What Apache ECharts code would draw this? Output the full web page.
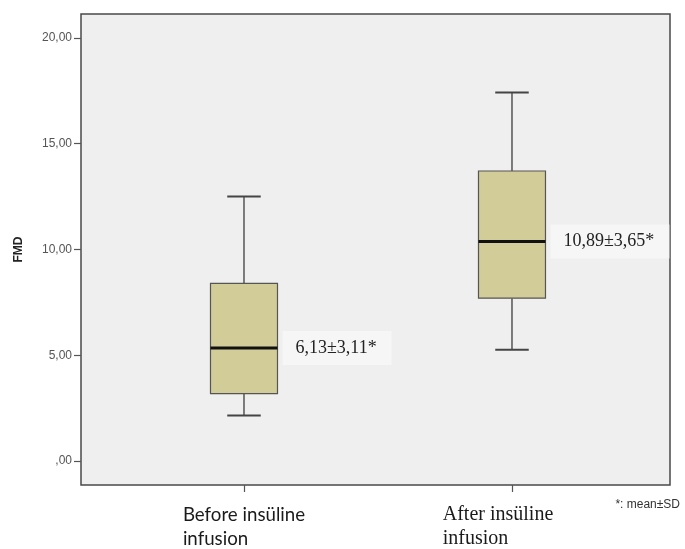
<!DOCTYPE html>
<html>
<head>
<meta charset="utf-8">
<script src="https://cdn.jsdelivr.net/npm/echarts@6/dist/echarts.min.js"></script>
<style>html,body{margin:0;padding:0;background:#fff;}#c{width:685px;height:549px;}</style>
</head>
<body>
<div id="c"></div>
<script>
// Data
var categories = ['Before insüline\ninfusion', 'After insüline\ninfusion'];
var positions = [1, 2];
var whiskerLow = [2.16, 5.26];
var q1 = [3.19, 7.70];
var median = [5.35, 10.38];
var q3 = [8.40, 13.71];
var whiskerHigh = [12.50, 17.42];
var annotations = ['6,13±3,11*', '10,89±3,65*'];
var yTicks = [0, 5, 10, 15, 20];

var seriesData = positions.map(function (p, i) {
  return [p, whiskerLow[i], q1[i], median[i], q3[i], whiskerHigh[i], i];
});

function fmtY(v) {
  var s = Number(v).toFixed(2).replace('.', ',');
  if (s.indexOf('0,') === 0) s = s.substring(1);
  return s;
}

var chart = echarts.init(document.getElementById('c'), null, { renderer: 'canvas' });
chart.setOption({
  backgroundColor: '#ffffff',
  animation: false,
  grid: {
    left: 81, right: 15, top: 14, bottom: 61,
    show: true, backgroundColor: '#efefef', borderColor: '#4a4a4a', borderWidth: 1.5
  },
  xAxis: {
    type: 'value', min: 0.3918, max: 2.5896,
    splitLine: { show: false },
    axisLine: { show: false, onZero: false },
    axisTick: { show: true, length: 7, customValues: positions, lineStyle: { color: '#555', width: 1.2 } },
    axisLabel: {
      customValues: positions,
      margin: 18,
      formatter: function (v) {
        var idx = positions.indexOf(v);
        var lines = categories[idx].split('\n');
        if (idx === 0) {
          return lines.map(function (l) { return '{s|' + l + '}'; }).join('\n');
        }
        return '{t1|' + lines[0] + '}\n{t|' + lines[1] + '}';
      },
      rich: {
        s: { fontFamily: 'Lato', fontSize: 18.7, color: '#1a1a1a', align: 'left', lineHeight: 24 },
        t: { fontFamily: 'Liberation Serif', fontSize: 20, color: '#1a1a1a', align: 'left', lineHeight: 24 },
        t1: { fontFamily: 'Liberation Serif', fontSize: 20, color: '#1a1a1a', align: 'left', lineHeight: 24, padding: [0, 28, 0, 0] }
      }
    }
  },
  yAxis: {
    type: 'value', min: -1.13, max: 21.13,
    name: 'FMD', nameLocation: 'middle', nameGap: 56, nameRotate: 90,
    nameTextStyle: { fontFamily: 'Liberation Sans', fontWeight: 'bold', fontSize: 12, color: '#222' },
    splitLine: { show: false },
    axisLine: { show: false, onZero: false },
    axisTick: { show: true, length: 7, customValues: yTicks, lineStyle: { color: '#555', width: 1.2 } },
    axisLabel: {
      customValues: yTicks, margin: 9,
      fontFamily: 'Liberation Sans', fontSize: 12, color: '#555',
      formatter: fmtY
    }
  },
  series: [{
    type: 'custom',
    data: seriesData,
    encode: { x: 0, y: [1, 2, 3, 4, 5] },
    clip: false,
    renderItem: function (params, api) {
      var x = api.value(0);
      var pLow = api.coord([x, api.value(1)]);
      var pQ1 = api.coord([x, api.value(2)]);
      var pMed = api.coord([x, api.value(3)]);
      var pQ3 = api.coord([x, api.value(4)]);
      var pHigh = api.coord([x, api.value(5)]);
      var boxW = api.size([0.25, 0])[0];
      var half = boxW / 2, cap = boxW / 4;
      var cx = pMed[0];
      var lineStyle = { stroke: '#555', lineWidth: 1.5, fill: null };
      var idx = api.value(6);
      return {
        type: 'group',
        children: [
          { type: 'line', shape: { x1: cx, y1: pHigh[1], x2: cx, y2: pQ3[1] }, style: lineStyle },
          { type: 'line', shape: { x1: cx, y1: pQ1[1], x2: cx, y2: pLow[1] }, style: lineStyle },
          { type: 'line', shape: { x1: cx - cap, y1: pHigh[1], x2: cx + cap, y2: pHigh[1] }, style: { stroke: '#444', lineWidth: 2 } },
          { type: 'line', shape: { x1: cx - cap, y1: pLow[1], x2: cx + cap, y2: pLow[1] }, style: { stroke: '#444', lineWidth: 2 } },
          { type: 'rect', shape: { x: cx - half, y: pQ3[1], width: boxW, height: pQ1[1] - pQ3[1] },
            style: { fill: '#d2cd98', stroke: '#555', lineWidth: 1.2 } },
          { type: 'line', shape: { x1: cx - half, y1: pMed[1], x2: cx + half, y2: pMed[1] }, style: { stroke: '#111', lineWidth: 3 } },
          { type: 'text', x: cx + half + 5, y: pMed[1],
            style: {
              text: annotations[idx], fontFamily: 'Liberation Serif', fontSize: 18, fill: '#222',
              verticalAlign: 'middle', align: 'left',
              backgroundColor: '#f6f6f6', padding: [8, 15, 8, 13]
            } }
        ]
      };
    }
  }],
  graphic: [{
    type: 'text', right: 5, top: 499,
    style: { text: '*: mean±SD', fontFamily: 'Liberation Sans', fontSize: 12, fill: '#333' }
  }]
});
</script>
</body>
</html>
